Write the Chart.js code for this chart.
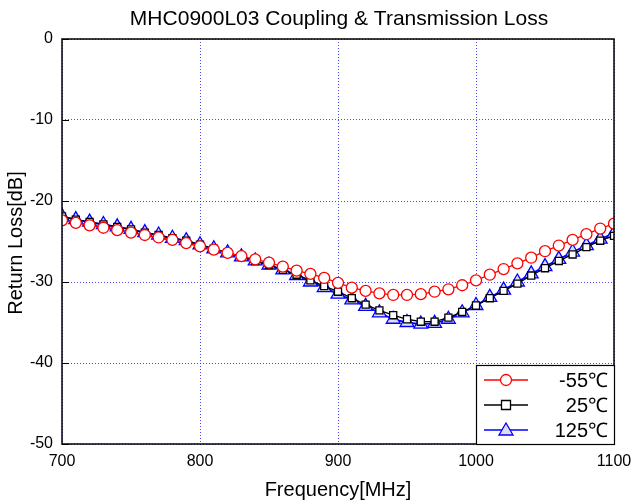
<!DOCTYPE html>
<html>
<head>
<meta charset="utf-8">
<script src="https://cdn.jsdelivr.net/npm/chart.js@4.4.1/dist/chart.umd.min.js"></script>
<style>
  html, body { margin: 0; padding: 0; background: #fff; }
  #wrap { width: 635px; height: 504px; }
</style>
</head>
<body>
<div id="wrap"><canvas id="chart" width="635" height="504"></canvas></div>
<script>
// ── data ──
const freqs = [700,710,720,730,740,750,760,770,780,790,800,810,820,830,840,850,860,870,880,890,
               900,910,920,930,940,950,960,970,980,990,1000,1010,1020,1030,1040,1050,1060,1070,1080,1090,1100];
const lossM55 = [-22.4,-22.7,-23.0,-23.3,-23.6,-23.9,-24.2,-24.5,-24.8,-25.2,-25.6,-26.0,-26.4,-26.8,-27.2,-27.6,-28.1,-28.6,-29.0,-29.5,
                 -30.1,-30.7,-31.1,-31.4,-31.6,-31.6,-31.5,-31.2,-30.9,-30.4,-29.8,-29.1,-28.4,-27.7,-27.0,-26.2,-25.5,-24.8,-24.1,-23.4,-22.8];
const loss25 = [-21.9,-22.3,-22.6,-22.9,-23.2,-23.5,-23.9,-24.2,-24.6,-24.9,-25.4,-25.9,-26.4,-26.9,-27.4,-27.9,-28.5,-29.1,-29.8,-30.5,
                -31.2,-32.0,-32.8,-33.5,-34.1,-34.6,-34.9,-34.9,-34.4,-33.7,-32.9,-32.0,-31.1,-30.2,-29.2,-28.3,-27.4,-26.6,-25.7,-24.9,-24.3];
const loss125 = [-21.9,-22.3,-22.6,-22.9,-23.2,-23.5,-23.9,-24.2,-24.6,-24.9,-25.4,-25.9,-26.4,-26.9,-27.4,-27.9,-28.5,-29.2,-30.0,-30.7,
                 -31.5,-32.2,-33.0,-33.8,-34.6,-35.0,-35.2,-35.1,-34.6,-33.8,-32.9,-31.9,-31.0,-30.0,-29.0,-28.1,-27.2,-26.3,-25.5,-24.7,-24.0];
const xTicks = [700, 800, 900, 1000, 1100];
const yTicks = [0, -10, -20, -30, -40, -50];
const seriesNames = ['-55\u2103', '25\u2103', '125\u2103'];

const FONT = "'Liberation Sans', Arial, sans-serif";
const gridBlue = 'rgba(40,40,255,0.85)';

const pts = vals => freqs.map((f, i) => ({ x: f, y: vals[i] }));

// frame, inner ticks, titles, legend
const decor = {
  id: 'decor',
  afterDatasetsDraw(chart) {
    const { ctx, chartArea: a, scales: { y } } = chart;
    ctx.save();
    ctx.strokeStyle = '#000';
    ctx.lineWidth = 1.5;
    ctx.strokeRect(a.left, a.top, a.right - a.left, a.bottom - a.top);
    ctx.lineWidth = 1;
    yTicks.forEach(v => {
      const py = Math.round(y.getPixelForValue(v)) + 0.5;
      ctx.beginPath(); ctx.moveTo(a.left, py); ctx.lineTo(a.left + 7, py); ctx.stroke();
    });

    // legend box
    const lx = 476, ly = 365, lw = a.right - lx, lh = a.bottom - ly;
    ctx.fillStyle = '#fff';
    ctx.fillRect(lx, ly, lw, lh);
    ctx.strokeStyle = '#000';
    ctx.lineWidth = 1.2;
    ctx.strokeRect(lx + 0.5, ly + 0.5, lw, lh);
    const rows = [
      { c: '#ff0000', style: 'circle' },
      { c: '#000000', style: 'rect' },
      { c: '#0000ff', style: 'triangle' }
    ];
    rows.forEach((r, i) => {
      const cy = ly + 15 + i * 25;
      ctx.strokeStyle = r.c; ctx.lineWidth = 1.3;
      ctx.beginPath(); ctx.moveTo(lx + 8, cy); ctx.lineTo(lx + 52, cy); ctx.stroke();
      ctx.fillStyle = '#fff';
      const mx = lx + 30;
      ctx.beginPath();
      if (r.style === 'circle') ctx.arc(mx, cy, 5.5, 0, Math.PI * 2);
      else if (r.style === 'rect') ctx.rect(mx - 4.5, cy - 4.5, 9, 9);
      else { ctx.moveTo(mx, cy - 7); ctx.lineTo(mx + 7, cy + 5); ctx.lineTo(mx - 7, cy + 5); ctx.closePath(); ctx.fillStyle = '#dde'; }
      ctx.fill(); ctx.stroke();
      ctx.fillStyle = '#000';
      ctx.font = '20px ' + FONT;
      ctx.textAlign = 'right'; ctx.textBaseline = 'middle';
      ctx.fillText(seriesNames[i], lx + 132, cy + 1);
    });

    // titles
    ctx.fillStyle = '#000';
    ctx.textAlign = 'center'; ctx.textBaseline = 'middle';
    ctx.font = '21px ' + FONT;
    ctx.fillText('MHC0900L03 Coupling & Transmission Loss', 339, 19);
    ctx.font = '20px ' + FONT;
    ctx.fillText('Frequency[MHz]', (a.left + a.right) / 2, 490);
    ctx.translate(16, 243);
    ctx.rotate(-Math.PI / 2);
    ctx.fillText('Return Loss[dB]', 0, 0);
    ctx.restore();
  }
};

const ds = (label, vals, color, style, radius, fill, width) => ({
  label,
  data: pts(vals),
  borderColor: color,
  borderWidth: width,
  pointStyle: style,
  pointRadius: radius,
  pointBorderColor: color,
  pointBorderWidth: 1.3,
  pointBackgroundColor: fill,
  tension: 0
});

new Chart(document.getElementById('chart'), {
  type: 'line',
  data: {
    datasets: [
      ds(seriesNames[0], lossM55, '#ff0000', 'circle', 5.5, '#fff', 1.3),
      ds(seriesNames[1], loss25, '#000000', 'rect', 5, '#fff', 1.3),
      ds(seriesNames[2], loss125, '#0000ff', 'triangle', 8, 'rgba(220,220,245,0.9)', 1.8)
    ]
  },
  options: {
    responsive: false,
    animation: false,
    layout: { padding: { top: 39, right: 21, left: 0, bottom: 0 } },
    plugins: { legend: { display: false }, title: { display: false }, tooltip: { enabled: false } },
    scales: {
      x: {
        type: 'linear', min: 700, max: 1100,
        afterBuildTicks: s => { s.ticks = xTicks.map(v => ({ value: v })); },
        afterFit: s => { s.height = 60; s.paddingLeft = 0; s.paddingRight = 0; },
        grid: { color: gridBlue, lineWidth: 1, drawTicks: false },
        border: { display: false, dash: [1, 2] },
        ticks: { color: '#000', font: { family: FONT, size: 16 }, padding: 8, callback: v => String(v) }
      },
      y: {
        min: -50, max: 0,
        afterBuildTicks: s => { s.ticks = yTicks.map(v => ({ value: v })); },
        afterFit: s => { s.width = 62; s.paddingTop = 0; s.paddingBottom = 0; },
        grid: { color: gridBlue, lineWidth: 1, drawTicks: false },
        border: { display: false, dash: [1, 2] },
        ticks: { color: '#000', font: { family: FONT, size: 16 }, padding: 9, callback: v => String(v) }
      }
    }
  },
  plugins: [decor]
});
</script>
</body>
</html>
